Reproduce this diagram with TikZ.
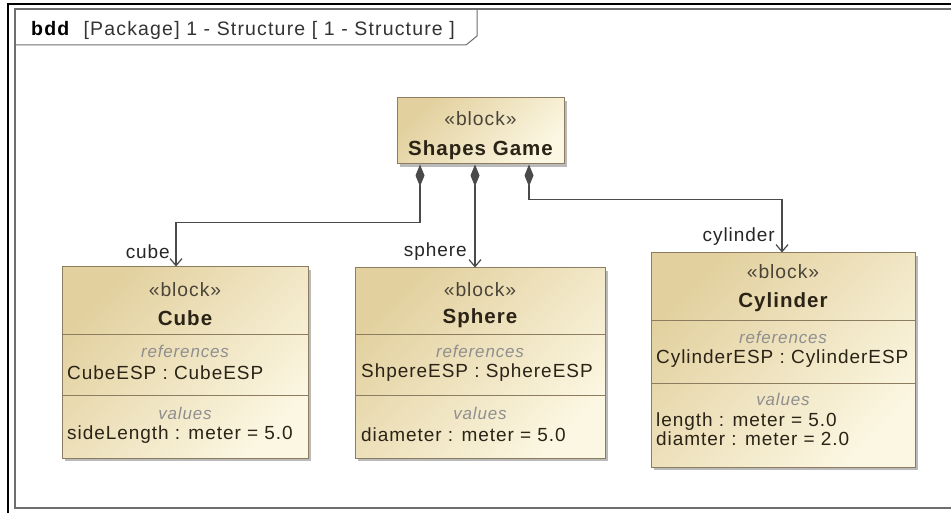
\documentclass[tikz,border=0pt]{standalone}
\usepackage{fontspec}
\setmainfont{Liberation Sans}
\newfontfamily\blockfont[LetterSpace=5]{Liberation Sans}
\newfontfamily\titlefont[LetterSpace=6]{Liberation Sans}
\usetikzlibrary{arrows.meta,shadows,calc}
\definecolor{blockfillA}{HTML}{E2D09E}
\definecolor{blockfillB}{HTML}{FCF7E2}
\definecolor{blockedge}{HTML}{8C7C60}
\definecolor{txt}{HTML}{2A2316}
\definecolor{compart}{HTML}{8E8E8E}
\definecolor{conn}{HTML}{4A4A4A}
\definecolor{framecol}{HTML}{6E6E6E}
\tikzset{
  block/.style={draw=blockedge, line width=1pt, rectangle, inner sep=0pt,
    top color=blockfillA, bottom color=blockfillB, shading angle=45,
    drop shadow={shadow xshift=3pt, shadow yshift=-3pt, fill=black!45, opacity=0.6}},
  divider/.style={draw=blockedge, line width=0.8pt},
  txtnode/.style={inner sep=0pt, text=txt, font=\blockfont\fontsize{19}{21}\selectfont},
  stereo/.style={txtnode, text=txt!85, font=\blockfont\fontsize{19.3}{21}\selectfont},
  bname/.style={txtnode, font=\blockfont\fontsize{20.5}{22}\selectfont\bfseries},
  comp/.style={txtnode, text=compart, font=\blockfont\fontsize{17}{20}\selectfont\itshape},
  prop/.style={txtnode, anchor=west},
  role/.style={txtnode, anchor=east, text=black!85},
  composition/.style={draw=conn, line width=1.2pt,
    {Diamond[length=22pt,width=9pt,fill=conn]}-{Straight Barb[length=7pt,width=12pt]}}
}
\begin{document}
\begin{tikzpicture}[x=1pt,y=-1pt]
\useasboundingbox[fill=white] (0,0) rectangle (951,513);
% screen border
\draw[black, line width=2pt] (8,513) -- (8,4) -- (951,4);
% frame
\draw[framecol, line width=1.2pt] (951,9) -- (15,9) -- (15,508) -- (951,508);
\draw[framecol, line width=1pt] (15,45) -- (466,45) -- (477,36) -- (477,9);
\node[anchor=west, inner sep=0pt, font=\titlefont\fontsize{19.5}{22}\selectfont] (title) at (31,30)
  {\textbf{bdd}\ \ \textcolor{black!80}{[Package] 1 - Structure [ 1 - Structure ]}};

% blocks
\node[block, minimum width=167pt, minimum height=66pt] (sg) at (480.5,131) {};
\node[block, minimum width=246pt, minimum height=191pt] (cube) at (185,362.5) {};
\node[block, minimum width=250pt, minimum height=190pt] (sphere) at (480,363) {};
\node[block, minimum width=264pt, minimum height=214pt] (cyl) at (783,360) {};

% Shapes Game
\node[stereo] (sgst) at (480.5,119) {«block»};
\node[bname] (sgnm) at (480.5,150) {Shapes Game};

% Cube
\node[stereo] (cust) at (185,290) {«block»};
\node[bname] (cunm) at (185,318) {Cube};
\draw[divider] (cube.west |- 0,334) -- (cube.east |- 0,334);
\node[comp] (curef) at (185,351) {references};
\node[prop] (cup1) at (67,373) {CubeESP : CubeESP};
\draw[divider] (cube.west |- 0,395) -- (cube.east |- 0,395);
\node[comp] (cuval) at (185,413) {values};
\node[prop] (cup2) at (67,435) {sideLength : meter = 5.0};

% Sphere
\node[stereo] (spst) at (480,290) {«block»};
\node[bname] (spnm) at (480,318) {Sphere};
\draw[divider] (sphere.west |- 0,334) -- (sphere.east |- 0,334);
\node[comp] (spref) at (480,351) {references};
\node[prop] (spp1) at (361,373) {ShpereESP : SphereESP};
\draw[divider] (sphere.west |- 0,395) -- (sphere.east |- 0,395);
\node[comp] (spval) at (480,413) {values};
\node[prop] (spp2) at (361,435) {diameter : meter = 5.0};

% Cylinder
\node[stereo] (cyst) at (783,272) {«block»};
\node[bname] (cynm) at (783,302) {Cylinder};
\draw[divider] (cyl.west |- 0,320) -- (cyl.east |- 0,320);
\node[comp] (cyref) at (783,337) {references};
\node[prop] (cyp1) at (656,359) {CylinderESP : CylinderESP};
\draw[divider] (cyl.west |- 0,383) -- (cyl.east |- 0,383);
\node[comp] (cyval) at (783,399) {values};
\node[prop] (cyp2) at (656,422) {length : meter = 5.0};
\node[prop] (cyp3) at (656,439) {diamter : meter = 2.0};

% connectors
\draw[composition] ([xshift=-60.5pt]sg.south) -- ++(0,58) -| ([xshift=-9pt]cube.north);
\draw[composition] ([xshift=-5.5pt]sg.south) -- ([xshift=-5pt]sphere.north);
\draw[composition] ([xshift=48.5pt]sg.south) -- ++(0,35) -| ([xshift=-1pt]cyl.north);

% role labels
\node[role] (lcube) at (170,252) {cube};
\node[role] (lsph) at (467,252) {sphere};
\node[role] (lcyl) at (775,237) {cylinder};
\end{tikzpicture}
\end{document}
